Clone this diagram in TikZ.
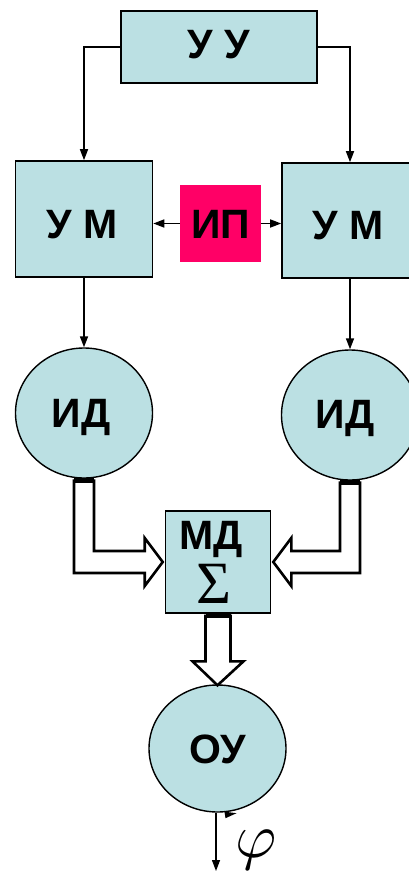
\documentclass[tikz,border=0pt]{standalone}
\usepackage{fontspec}
\setmainfont{Liberation Sans}
\newfontfamily\serifgreek{Liberation Serif}
\usetikzlibrary{arrows.meta,shapes.geometric,calc}
\definecolor{blockfill}{HTML}{BBE0E3}
\definecolor{sourcefill}{HTML}{FF0066}
\begin{document}
\begin{tikzpicture}[x=1pt,y=-1pt,
  lbl/.style={font=\fontsize{41}{41}\selectfont\bfseries, text height=29pt, text depth=0pt, inner sep=0pt},
  block/.style={draw, line width=1.6pt, fill=blockfill, inner sep=0pt},
  disc/.style={ellipse, draw, line width=1.4pt, fill=blockfill, inner sep=0pt},
  link/.style={line width=1.6pt, -{Triangle[length=11pt,width=8pt]}},
  hollow/.style={draw, line width=2.6pt, fill=white, line join=miter},
  bar/.style={line width=4.5pt},
]
\clip (0,0) rectangle (409,872);

% control unit
\node[block, minimum width=196pt, minimum height=72pt] (uu) at (219,47) {};
\node[lbl] (uut) at (219,44) {У У};

% modulators and the source between them
\node[block, minimum width=137pt, minimum height=116pt] (uml) at (84,219) {};
\node[lbl] (umlt) at (82,224) {У М};
\node[block, minimum width=138pt, minimum height=115pt] (umr) at (351,220.5) {};
\node[lbl] (umrt) at (348,225) {У М};
\node[fill=sourcefill, minimum width=81pt, minimum height=77pt, inner sep=0pt] (ip) at (220.5,223.5) {};
\node[lbl] (ipt) at (220.5,224) {ИП};

% drives
\node[disc, minimum width=137pt, minimum height=130pt] (idl) at (84,413) {};
\node[lbl] (idlt) at (81,412.5) {ИД};
\node[disc, minimum width=137pt, minimum height=130pt] (idr) at (350,415) {};
\node[lbl] (idrt) at (345,414) {ИД};

% summing module
\node[block, minimum width=105pt, minimum height=102pt] (md) at (218,562) {};
\node[lbl] (mdt) at (211,535) {МД};
\node[inner sep=0pt, font=\serifgreek\fontsize{60}{60}\selectfont] (sig) at (213.5,584) {Σ};

% controlled object
\node[disc, minimum width=137pt, minimum height=127pt] (ou) at (217.5,748.5) {};
\node[lbl] (out) at (217.5,748.5) {ОУ};

% signal links
\draw[link] (uu.west) -| (uml.north);
\draw[link] (uu.east) -| (idr.north |- umr.north);
\draw[link] (ip.west) -- (ip.west -| uml.east);
\draw[link] (ip.east) -- (ip.east -| umr.west);
\draw[link] (uml.south) -- (idl.north);
\draw[link] (idr.north |- umr.south) -- (idr.north);

% left power arrow into the summing module
\path (idl.south) ++(-10,2) coordinate (l1) ++(20,0) coordinate (l2);
\path (md.west) ++(-2,0) coordinate (ltip) ++(-18,0) coordinate (lb);
\path (ltip) ++(0,11) coordinate (lo) ++(0,-22) coordinate (li);
\draw[hollow] (l1) -- (l1 |- lo) -- (lb |- lo) -- ($(lb)+(0,24)$) -- (ltip)
  -- ($(lb)+(0,-24)$) -- (lb |- li) -- (l2 |- li) -- (l2) -- cycle;
\draw[bar] (l1) -- (l2);

% right power arrow into the summing module
\path (idr.south) ++(10,2) coordinate (r1) ++(-20,0) coordinate (r2);
\path (md.east) ++(2,0) coordinate (rtip) ++(18,0) coordinate (rb);
\path (rtip) ++(0,11) coordinate (ro) ++(0,-22) coordinate (ri);
\draw[hollow] (r1) -- (r1 |- ro) -- (rb |- ro) -- ($(rb)+(0,24)$) -- (rtip)
  -- ($(rb)+(0,-24)$) -- (rb |- ri) -- (r2 |- ri) -- (r2) -- cycle;
\draw[bar] (r1) -- (r2);

% power arrow from the summing module to the object
\path (md.south) ++(-12.5,2) coordinate (b1) ++(25,0) coordinate (b2);
\path (ou.north) ++(0,1) coordinate (btip) ++(0,-24) coordinate (bb);
\draw[hollow] (b1) -- (b1 |- bb) -- ($(bb)+(-25,0)$) -- (btip) -- ($(bb)+(26,0)$)
  -- (b2 |- bb) -- (b2) -- cycle;
\draw[bar] (b1) -- (b2);

% output angle
\coordinate (phiend) at (216,871);
\draw[link, line width=1.3pt] (ou.south -| phiend) -- (phiend);
\fill ($(ou.south)+(7,-1)$) -- ++(12,1.5) -- ++(-11,5) -- cycle;
\node[scale=6.3, inner sep=0pt, line width=0.1pt] (phi) at (256,850) {$\varphi$};
\end{tikzpicture}
\end{document}
